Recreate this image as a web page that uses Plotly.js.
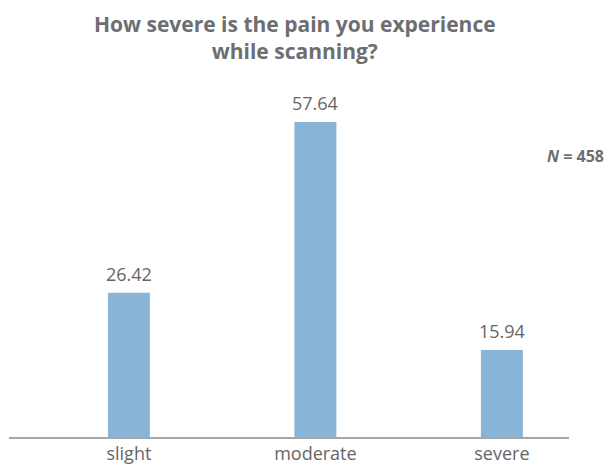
<!DOCTYPE html>
<html>
<head>
<meta charset="utf-8">
<script src="https://cdn.plot.ly/plotly-3.0.1.min.js"></script>
<style>html,body{margin:0;padding:0;background:#fff;}#chart{width:606px;height:464px;}</style>
</head>
<body>
<div id="chart"></div>
<script>
const categories = ["slight", "moderate", "severe"];
const values = [26.42, 57.64, 15.94];
const valueLabels = ["26.42", "57.64", "15.94"];
const titleText = "How severe is the pain you experience<br>while scanning?";
const nText = "<i>N</i> = 458";

const trace = {
  type: "bar",
  x: categories,
  y: values,
  width: 0.225,
  marker: {color: "#88b4d7"},
  hoverinfo: "none"
};

const annotations = categories.map((c, i) => ({
  x: c, y: values[i], xref: "x", yref: "y",
  text: valueLabels[i], showarrow: false,
  yanchor: "bottom", yshift: 5,
  font: {family: "Open Sans, sans-serif", size: 18, color: "#666666"}
}));
annotations.push({
  xref: "paper", yref: "paper", x: 1.066, y: 0.81,
  xanchor: "right", yanchor: "middle",
  text: "<b>" + nText + "</b>", showarrow: false,
  font: {family: "Open Sans, sans-serif", size: 16, color: "#6d6e71"}
});
annotations.push({
  xref: "paper", yref: "paper", x: 0.5116, y: 1.235,
  xanchor: "center", yanchor: "top", align: "center",
  text: "<b>" + titleText + "</b>", showarrow: false,
  font: {family: "Open Sans, sans-serif", size: 21, color: "#6d6e71"}
});

const layout = {
  width: 606, height: 464,
  margin: {l: 9, r: 37, t: 90, b: 27, pad: 0},
  paper_bgcolor: "#ffffff", plot_bgcolor: "#ffffff",
  showlegend: false,
  xaxis: {
    type: "category",
    range: [-0.643, 2.36],
    showline: true, linecolor: "#a6a6a6", linewidth: 1.5,
    ticks: "", showgrid: false, zeroline: false,
    tickfont: {family: "Open Sans, sans-serif", size: 18, color: "#666666"}
  },
  yaxis: {
    range: [0, 63.5],
    visible: false, showgrid: false, zeroline: false
  },
  annotations: annotations
};

Plotly.newPlot("chart", [trace], layout, {displayModeBar: false, staticPlot: true});
</script>
</body>
</html>
